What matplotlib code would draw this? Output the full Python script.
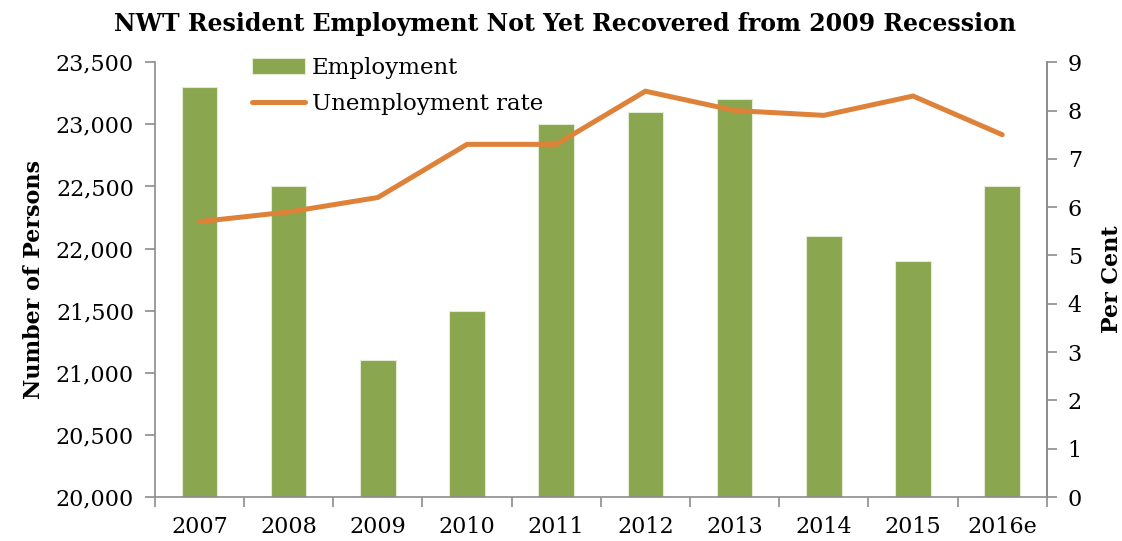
import matplotlib
matplotlib.use("Agg")
import matplotlib.pyplot as plt
import numpy as np
from matplotlib.ticker import FuncFormatter, FixedLocator

years = ["2007", "2008", "2009", "2010", "2011", "2012", "2013", "2014", "2015", "2016e"]
employment = [23300, 22500, 21100, 21500, 23000, 23100, 23200, 22100, 21900, 22500]
unemployment_rate = [5.7, 5.9, 6.2, 7.3, 7.3, 8.4, 8.0, 7.9, 8.3, 7.5]

plt.rcParams['font.family'] = ['DejaVu Serif']

GREEN = "#8AA64F"
ORANGE = "#DE8239"
GRAY = "#8C8C8C"
FS = 16

fig = plt.figure(figsize=(11.22, 5.41), dpi=100)
ax = fig.add_axes([0.138, 0.0813, 0.795, 0.8037])
x = np.arange(len(years))
bars = ax.bar(x, employment, width=0.4, color=GREEN, edgecolor="#E4EBD5", linewidth=0.8,
              label="Employment", zorder=2)
ax.set_ylim(20000, 23500)
ax.set_xlim(-0.5, len(years) - 0.5)
ax.set_yticks(np.arange(20000, 23501, 500))
ax.yaxis.set_major_formatter(FuncFormatter(lambda v, p: f"{int(v):,}"))
ax.set_xticks(x)
ax.set_xticklabels(years)
ax.xaxis.set_minor_locator(FixedLocator(np.arange(-0.5, len(years), 1.0)))
ax.tick_params(axis='x', which='major', length=0, labelsize=FS, pad=14)
ax.tick_params(axis='x', which='minor', length=7, color=GRAY, width=1.2)
ax.tick_params(axis='y', length=7, color=GRAY, width=1.2, labelsize=FS, pad=8)
ax.spines["top"].set_visible(False)
for s in ["left", "bottom", "right"]:
    ax.spines[s].set_color(GRAY)
    ax.spines[s].set_linewidth(1.2)
ax.set_ylabel("Number of Persons", fontsize=FS, fontweight="bold", labelpad=8)

ax2 = ax.twinx()
line, = ax2.plot(x, unemployment_rate, color=ORANGE, lw=3.6, solid_capstyle="round",
                 solid_joinstyle="miter", label="Unemployment rate", zorder=3)
ax2.set_ylim(0, 9)
ax2.set_yticks(np.arange(0, 10, 1))
ax2.tick_params(axis='y', length=7, color=GRAY, width=1.2, labelsize=FS, pad=8)
ax2.spines["top"].set_visible(False)
ax2.spines["left"].set_visible(False)
ax2.spines["bottom"].set_visible(False)
ax2.spines["right"].set_color(GRAY)
ax2.spines["right"].set_linewidth(1.2)
ax2.set_ylabel("Per Cent", fontsize=FS, fontweight="bold", labelpad=14)

fig.legend([bars, line], ["Employment", "Unemployment rate"], loc="upper left",
           bbox_to_anchor=(252 / 1122, 1 - 57 / 541), bbox_transform=fig.transFigure,
           frameon=False, fontsize=16.5, borderpad=0, borderaxespad=0,
           handlelength=2.3, handleheight=0.65, handletextpad=0.3, labelspacing=0.6)

fig.text(0.504, 1 - 24 / 541, "NWT Resident Employment Not Yet Recovered from 2009 Recession",
         fontsize=17, fontweight="bold", ha="center", va="center")

fig.savefig("out.png", dpi=100)
